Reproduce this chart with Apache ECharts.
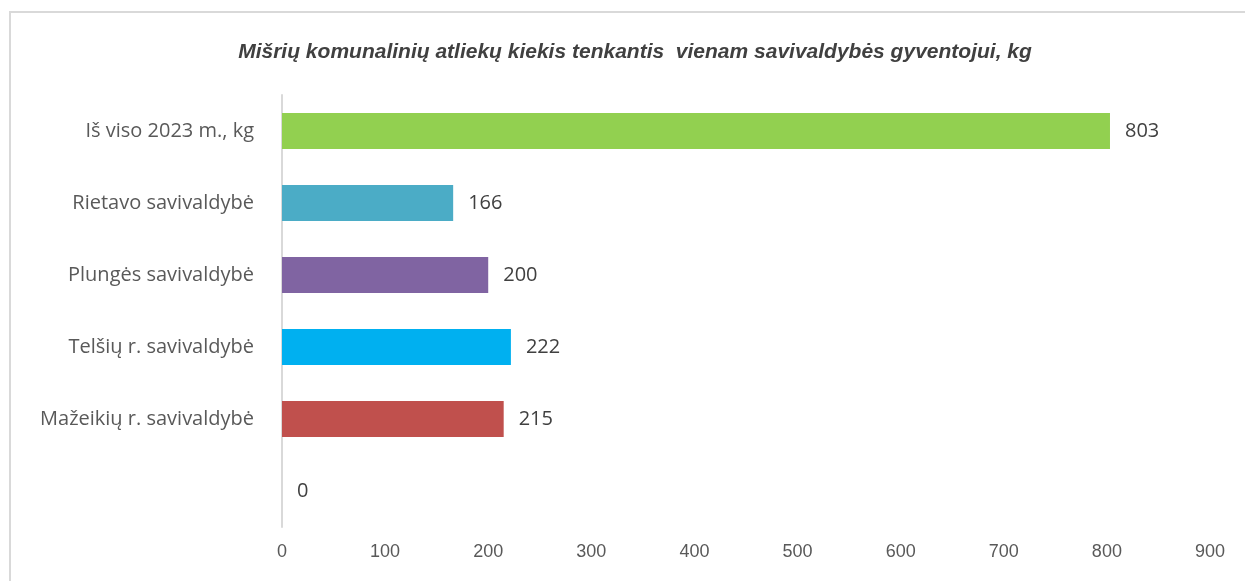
<!DOCTYPE html>
<html>
<head>
<meta charset="utf-8">
<script src="https://cdn.jsdelivr.net/npm/echarts@6/dist/echarts.min.js"></script>
<style>
  html, body { margin: 0; padding: 0; background: #fff; }
  #chart { width: 1245px; height: 581px; }
</style>
</head>
<body>
<div id="chart"></div>
<script>
// duomenys (iš apačios į viršų)
const categories = ['', 'Mažeikių r. savivaldybė', 'Telšių r. savivaldybė', 'Plungės savivaldybė', 'Rietavo savivaldybė', 'Iš viso 2023 m., kg']
const values = [0, 215, 222, 200, 166, 803]
const barColors = ['#C0504D', '#C0504D', '#00B0F0', '#8064A2', '#4BACC6', '#92D050']
const xTicks = [0, 900, 100] // min, max, interval

const font = 'Liberation Sans'
const labelFont = 'Open Sans'
const myChart = echarts.init(document.getElementById('chart'))

const option = {
  animation: false,
  graphic: [{
    type: 'rect',
    shape: { x: 10, y: 12, width: 1260, height: 620 },
    style: { fill: 'none', stroke: '#d9d9d9', lineWidth: 2 }
  }],
  title: {
    text: 'Mišrių komunalinių atliekų kiekis tenkantis  vienam savivaldybės gyventojui, kg',
    left: 630,
    textAlign: 'center',
    top: 37,
    textStyle: {
      fontFamily: font,
      fontStyle: 'italic',
      fontWeight: 'bold',
      fontSize: 21,
      color: '#404040'
    }
  },
  grid: { left: 282, right: 35, top: 95, bottom: 54, containLabel: false },
  xAxis: {
    type: 'value',
    min: xTicks[0],
    max: xTicks[1],
    interval: xTicks[2],
    axisLine: { show: false },
    axisTick: { show: false },
    splitLine: { show: false },
    axisLabel: { fontFamily: font, fontSize: 18, color: '#595959', margin: 16 }
  },
  yAxis: {
    type: 'category',
    data: categories,
    axisLine: { show: true, lineStyle: { color: '#d9d9d9', width: 2 } },
    axisTick: { show: false },
    axisLabel: { fontFamily: labelFont, fontSize: 20, color: '#595959', margin: 28 }
  },
  series: [{
    type: 'bar',
    barWidth: 36,
    data: values.map((v, i) => ({ value: v, itemStyle: { color: barColors[i] } })),
    label: {
      show: true,
      position: 'right',
      distance: 15,
      fontFamily: labelFont,
      fontSize: 20,
      color: '#404040'
    }
  }]
}

myChart.setOption(option)
</script>
</body>
</html>
